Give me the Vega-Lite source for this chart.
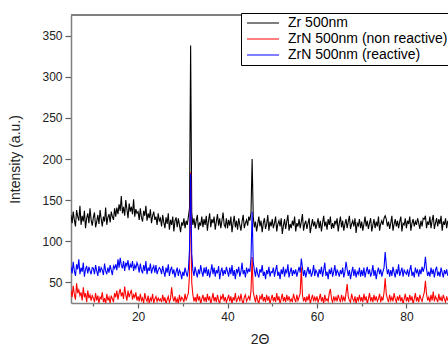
{
"$schema": "https://vega.github.io/schema/vega-lite/v6.json",
"width": 377,
"height": 288,
"autosize": {"type": "none"},
"padding": {"left": 71, "top": 15, "right": 0, "bottom": 42},
"background": "white",
"config": {"view": {"stroke": null}, "font": "Liberation Sans"},
"data": {"values": [
{"x":5,"a":132,"b":40,"c":69},{"x":5.25,"a":122,"b":32,"c":61},{"x":5.5,"a":136,"b":46,"c":75},{"x":5.75,"a":126,"b":35,"c":64},
{"x":6,"a":118,"b":29,"c":58},{"x":6.25,"a":138,"b":49,"c":72},{"x":6.5,"a":130,"b":37,"c":66},{"x":6.75,"a":125,"b":41,"c":78},
{"x":7,"a":143,"b":34,"c":60},{"x":7.25,"a":120,"b":38,"c":68},{"x":7.5,"a":131,"b":28,"c":63},{"x":7.75,"a":124,"b":44,"c":74},
{"x":8,"a":137,"b":32,"c":57},{"x":8.25,"a":116,"b":37,"c":66},{"x":8.5,"a":128,"b":26,"c":70},{"x":8.75,"a":134,"b":40,"c":61},
{"x":9,"a":122,"b":31,"c":69},{"x":9.25,"a":140,"b":35,"c":64},{"x":9.5,"a":126,"b":28,"c":60},{"x":9.75,"a":119,"b":34,"c":68},
{"x":10,"a":129,"b":31,"c":67},{"x":10.25,"a":135,"b":26,"c":60},{"x":10.5,"a":117,"b":37,"c":71},{"x":10.75,"a":124,"b":28,"c":64},
{"x":11,"a":132,"b":34,"c":58},{"x":11.25,"a":121,"b":25,"c":70},{"x":11.5,"a":138,"b":32,"c":62},{"x":11.75,"a":127,"b":30,"c":68},
{"x":12,"a":118,"b":38,"c":65},{"x":12.25,"a":130,"b":26,"c":59},{"x":12.5,"a":124,"b":31,"c":73},{"x":12.75,"a":141,"b":24,"c":64},
{"x":13,"a":120,"b":36,"c":60},{"x":13.25,"a":129,"b":28,"c":68},{"x":13.5,"a":133,"b":32,"c":62},{"x":13.75,"a":123,"b":25,"c":71},
{"x":14,"a":136,"b":34,"c":65},{"x":14.25,"a":130,"b":30,"c":59},{"x":14.5,"a":126,"b":26,"c":70},{"x":14.75,"a":140,"b":37,"c":67},
{"x":15,"a":130,"b":32,"c":72},{"x":15.25,"a":141,"b":40,"c":65},{"x":15.5,"a":133,"b":29,"c":78},{"x":15.75,"a":145,"b":37,"c":68},
{"x":16,"a":137,"b":42,"c":80},{"x":16.25,"a":155,"b":33,"c":71},{"x":16.5,"a":134,"b":38,"c":67},{"x":16.75,"a":142,"b":30,"c":76},
{"x":17,"a":131,"b":45,"c":64},{"x":17.25,"a":150,"b":35,"c":74},{"x":17.5,"a":139,"b":28,"c":70},{"x":17.75,"a":128,"b":40,"c":77},
{"x":18,"a":146,"b":32,"c":65},{"x":18.25,"a":136,"b":37,"c":72},{"x":18.5,"a":142,"b":41,"c":68},{"x":18.75,"a":133,"b":29,"c":76},
{"x":19,"a":151,"b":35,"c":64},{"x":19.25,"a":130,"b":32,"c":71},{"x":19.5,"a":139,"b":38,"c":67},{"x":19.75,"a":134,"b":28,"c":74},
{"x":20,"a":136,"b":33,"c":70},{"x":20.25,"a":126,"b":27,"c":62},{"x":20.5,"a":140,"b":36,"c":73},{"x":20.75,"a":129,"b":28,"c":65},
{"x":21,"a":124,"b":31,"c":61},{"x":21.25,"a":137,"b":25,"c":71},{"x":21.5,"a":131,"b":37,"c":64},{"x":21.75,"a":143,"b":30,"c":76},
{"x":22,"a":125,"b":27,"c":60},{"x":22.25,"a":134,"b":34,"c":68},{"x":22.5,"a":128,"b":24,"c":64},{"x":22.75,"a":139,"b":31,"c":73},
{"x":23,"a":122,"b":28,"c":61},{"x":23.25,"a":131,"b":36,"c":67},{"x":23.5,"a":136,"b":25,"c":70},{"x":23.75,"a":126,"b":30,"c":62},
{"x":24,"a":130,"b":33,"c":71},{"x":24.25,"a":120,"b":27,"c":60},{"x":24.5,"a":134,"b":31,"c":65},{"x":24.75,"a":125,"b":28,"c":68},
{"x":25,"a":128,"b":30,"c":66},{"x":25.25,"a":118,"b":26,"c":60},{"x":25.5,"a":132,"b":35,"c":70},{"x":25.75,"a":123,"b":27,"c":63},
{"x":26,"a":116,"b":32,"c":57},{"x":26.25,"a":129,"b":24,"c":68},{"x":26.5,"a":121,"b":29,"c":62},{"x":26.75,"a":134,"b":33,"c":72},
{"x":27,"a":114,"b":26,"c":58},{"x":27.25,"a":126,"b":30,"c":65},{"x":27.5,"a":120,"b":44,"c":69},{"x":27.75,"a":130,"b":32,"c":60},
{"x":28,"a":112,"b":27,"c":66},{"x":28.25,"a":125,"b":33,"c":56},{"x":28.5,"a":129,"b":26,"c":63},{"x":28.75,"a":117,"b":30,"c":68},
{"x":29,"a":128,"b":24,"c":58},{"x":29.25,"a":120,"b":35,"c":65},{"x":29.5,"a":111,"b":27,"c":62},{"x":29.75,"a":123,"b":32,"c":54},
{"x":30,"a":119,"b":30,"c":63},{"x":30.25,"a":128,"b":26,"c":58},{"x":30.5,"a":116,"b":36,"c":68},{"x":30.75,"a":125,"b":28,"c":62},
{"x":31,"a":120,"b":33,"c":57},{"x":31.25,"a":130,"b":37,"c":66},{"x":31.5,"a":140,"b":60,"c":90},{"x":31.75,"a":338,"b":184,"c":182},
{"x":32,"a":135,"b":50,"c":85},{"x":32.25,"a":120,"b":35,"c":65},{"x":32.5,"a":128,"b":27,"c":58},{"x":32.75,"a":116,"b":32,"c":69},
{"x":33,"a":125,"b":26,"c":62},{"x":33.25,"a":132,"b":36,"c":56},{"x":33.5,"a":114,"b":28,"c":66},{"x":33.75,"a":123,"b":33,"c":60},
{"x":34,"a":119,"b":24,"c":71},{"x":34.25,"a":130,"b":30,"c":63},{"x":34.5,"a":117,"b":35,"c":57},{"x":34.75,"a":127,"b":27,"c":68},
{"x":35,"a":120,"b":32,"c":61},{"x":35.25,"a":131,"b":26,"c":69},{"x":35.5,"a":113,"b":36,"c":58},{"x":35.75,"a":125,"b":28,"c":66},
{"x":36,"a":134,"b":33,"c":56},{"x":36.25,"a":117,"b":24,"c":63},{"x":36.5,"a":127,"b":30,"c":72},{"x":36.75,"a":122,"b":37,"c":60},
{"x":37,"a":130,"b":27,"c":68},{"x":37.25,"a":114,"b":32,"c":57},{"x":37.5,"a":124,"b":26,"c":65},{"x":37.75,"a":133,"b":35,"c":61},
{"x":38,"a":119,"b":28,"c":70},{"x":38.25,"a":128,"b":24,"c":54},{"x":38.5,"a":116,"b":33,"c":63},{"x":38.75,"a":125,"b":30,"c":68},
{"x":39,"a":135,"b":36,"c":58},{"x":39.25,"a":120,"b":27,"c":65},{"x":39.5,"a":117,"b":32,"c":60},{"x":39.75,"a":128,"b":26,"c":69},
{"x":40,"a":116,"b":30,"c":63},{"x":40.25,"a":126,"b":35,"c":57},{"x":40.5,"a":119,"b":27,"c":68},{"x":40.75,"a":130,"b":33,"c":60},
{"x":41,"a":111,"b":24,"c":71},{"x":41.25,"a":122,"b":32,"c":58},{"x":41.5,"a":131,"b":28,"c":65},{"x":41.75,"a":117,"b":37,"c":54},
{"x":42,"a":125,"b":26,"c":66},{"x":42.25,"a":114,"b":30,"c":62},{"x":42.5,"a":128,"b":33,"c":69},{"x":42.75,"a":120,"b":27,"c":57},
{"x":43,"a":113,"b":36,"c":63},{"x":43.25,"a":124,"b":28,"c":74},{"x":43.5,"a":132,"b":24,"c":60},{"x":43.75,"a":116,"b":32,"c":65},
{"x":44,"a":122,"b":35,"c":56},{"x":44.25,"a":126,"b":27,"c":68},{"x":44.5,"a":119,"b":30,"c":62},{"x":44.75,"a":130,"b":33,"c":66},
{"x":45,"a":125,"b":28,"c":63},{"x":45.25,"a":135,"b":40,"c":80},{"x":45.5,"a":200,"b":81,"c":136},{"x":45.75,"a":130,"b":38,"c":75},
{"x":46,"a":117,"b":32,"c":65},{"x":46.25,"a":124,"b":26,"c":57},{"x":46.5,"a":112,"b":35,"c":68},{"x":46.75,"a":121,"b":28,"c":60},
{"x":47,"a":130,"b":24,"c":56},{"x":47.25,"a":118,"b":33,"c":66},{"x":47.5,"a":125,"b":30,"c":62},{"x":47.75,"a":111,"b":36,"c":71},
{"x":48,"a":122,"b":27,"c":58},{"x":48.25,"a":128,"b":32,"c":63},{"x":48.5,"a":115,"b":26,"c":54},{"x":48.75,"a":121,"b":35,"c":65},
{"x":49,"a":132,"b":28,"c":60},{"x":49.25,"a":113,"b":33,"c":69},{"x":49.5,"a":124,"b":24,"c":57},{"x":49.75,"a":118,"b":30,"c":63},
{"x":50,"a":127,"b":35,"c":62},{"x":50.25,"a":116,"b":27,"c":68},{"x":50.5,"a":122,"b":32,"c":57},{"x":50.75,"a":130,"b":26,"c":65},
{"x":51,"a":112,"b":37,"c":71},{"x":51.25,"a":121,"b":28,"c":58},{"x":51.5,"a":125,"b":33,"c":63},{"x":51.75,"a":118,"b":24,"c":54},
{"x":52,"a":128,"b":30,"c":66},{"x":52.25,"a":109,"b":36,"c":60},{"x":52.5,"a":119,"b":27,"c":69},{"x":52.75,"a":127,"b":32,"c":57},
{"x":53,"a":115,"b":26,"c":65},{"x":53.25,"a":124,"b":35,"c":62},{"x":53.5,"a":132,"b":28,"c":72},{"x":53.75,"a":113,"b":33,"c":56},
{"x":54,"a":121,"b":27,"c":63},{"x":54.25,"a":116,"b":30,"c":68},{"x":54.5,"a":125,"b":26,"c":58},{"x":54.75,"a":119,"b":36,"c":65},
{"x":55,"a":130,"b":30,"c":60},{"x":55.25,"a":112,"b":26,"c":66},{"x":55.5,"a":122,"b":35,"c":57},{"x":55.75,"a":118,"b":28,"c":63},
{"x":56,"a":127,"b":32,"c":69},{"x":56.25,"a":116,"b":37,"c":62},{"x":56.5,"a":124,"b":68,"c":79},{"x":56.75,"a":133,"b":35,"c":68},
{"x":57,"a":113,"b":27,"c":58},{"x":57.25,"a":121,"b":32,"c":65},{"x":57.5,"a":125,"b":26,"c":56},{"x":57.75,"a":115,"b":33,"c":63},
{"x":58,"a":122,"b":28,"c":69},{"x":58.25,"a":128,"b":36,"c":60},{"x":58.5,"a":110,"b":24,"c":66},{"x":58.75,"a":119,"b":30,"c":57},
{"x":59,"a":127,"b":35,"c":62},{"x":59.25,"a":118,"b":27,"c":71},{"x":59.5,"a":124,"b":32,"c":58},{"x":59.75,"a":115,"b":28,"c":65},
{"x":60,"a":121,"b":33,"c":62},{"x":60.25,"a":128,"b":26,"c":56},{"x":60.5,"a":116,"b":30,"c":66},{"x":60.75,"a":125,"b":36,"c":60},
{"x":61,"a":112,"b":27,"c":69},{"x":61.25,"a":122,"b":32,"c":57},{"x":61.5,"a":131,"b":24,"c":65},{"x":61.75,"a":118,"b":35,"c":74},
{"x":62,"a":124,"b":28,"c":58},{"x":62.25,"a":114,"b":30,"c":63},{"x":62.5,"a":127,"b":27,"c":54},{"x":62.75,"a":120,"b":37,"c":66},
{"x":63,"a":130,"b":42,"c":60},{"x":63.25,"a":115,"b":30,"c":68},{"x":63.5,"a":122,"b":26,"c":57},{"x":63.75,"a":116,"b":33,"c":63},
{"x":64,"a":125,"b":28,"c":71},{"x":64.25,"a":121,"b":32,"c":58},{"x":64.5,"a":128,"b":27,"c":65},{"x":64.75,"a":112,"b":35,"c":62},
{"x":65,"a":122,"b":30,"c":57},{"x":65.25,"a":130,"b":26,"c":65},{"x":65.5,"a":117,"b":35,"c":60},{"x":65.75,"a":125,"b":28,"c":68},
{"x":66,"a":113,"b":32,"c":56},{"x":66.25,"a":121,"b":27,"c":63},{"x":66.5,"a":127,"b":37,"c":75},{"x":66.75,"a":116,"b":48,"c":66},
{"x":67,"a":124,"b":33,"c":58},{"x":67.25,"a":131,"b":28,"c":65},{"x":67.5,"a":115,"b":26,"c":54},{"x":67.75,"a":121,"b":36,"c":62},
{"x":68,"a":125,"b":30,"c":69},{"x":68.25,"a":118,"b":27,"c":58},{"x":68.5,"a":128,"b":33,"c":66},{"x":68.75,"a":110,"b":24,"c":56},
{"x":69,"a":122,"b":32,"c":63},{"x":69.25,"a":119,"b":28,"c":60},{"x":69.5,"a":127,"b":35,"c":68},{"x":69.75,"a":116,"b":27,"c":57},
{"x":70,"a":124,"b":32,"c":65},{"x":70.25,"a":113,"b":26,"c":58},{"x":70.5,"a":121,"b":36,"c":68},{"x":70.75,"a":130,"b":28,"c":56},
{"x":71,"a":118,"b":33,"c":63},{"x":71.25,"a":125,"b":24,"c":69},{"x":71.5,"a":115,"b":30,"c":60},{"x":71.75,"a":122,"b":37,"c":66},
{"x":72,"a":128,"b":27,"c":57},{"x":72.25,"a":112,"b":32,"c":62},{"x":72.5,"a":120,"b":26,"c":71},{"x":72.75,"a":127,"b":35,"c":58},
{"x":73,"a":116,"b":28,"c":65},{"x":73.25,"a":124,"b":33,"c":54},{"x":73.5,"a":118,"b":27,"c":63},{"x":73.75,"a":130,"b":30,"c":68},
{"x":74,"a":113,"b":36,"c":60},{"x":74.25,"a":121,"b":26,"c":66},{"x":74.5,"a":125,"b":32,"c":57},{"x":74.75,"a":120,"b":28,"c":63},
{"x":75,"a":128,"b":38,"c":68},{"x":75.25,"a":131,"b":55,"c":87},{"x":75.5,"a":127,"b":36,"c":71},{"x":75.75,"a":118,"b":30,"c":60},
{"x":76,"a":124,"b":26,"c":66},{"x":76.25,"a":115,"b":35,"c":57},{"x":76.5,"a":122,"b":28,"c":65},{"x":76.75,"a":131,"b":32,"c":58},
{"x":77,"a":113,"b":27,"c":69},{"x":77.25,"a":121,"b":37,"c":62},{"x":77.5,"a":127,"b":30,"c":56},{"x":77.75,"a":118,"b":26,"c":66},
{"x":78,"a":125,"b":33,"c":60},{"x":78.25,"a":116,"b":28,"c":72},{"x":78.5,"a":124,"b":35,"c":58},{"x":78.75,"a":130,"b":27,"c":63},
{"x":79,"a":112,"b":32,"c":68},{"x":79.25,"a":122,"b":24,"c":57},{"x":79.5,"a":120,"b":30,"c":65},{"x":79.75,"a":128,"b":36,"c":62},
{"x":80,"a":116,"b":27,"c":60},{"x":80.25,"a":125,"b":32,"c":66},{"x":80.5,"a":121,"b":26,"c":57},{"x":80.75,"a":130,"b":35,"c":65},
{"x":81,"a":113,"b":28,"c":71},{"x":81.25,"a":122,"b":33,"c":58},{"x":81.5,"a":127,"b":24,"c":63},{"x":81.75,"a":118,"b":30,"c":56},
{"x":82,"a":124,"b":37,"c":68},{"x":82.25,"a":120,"b":27,"c":62},{"x":82.5,"a":128,"b":32,"c":65},{"x":82.75,"a":122,"b":26,"c":57},
{"x":83,"a":115,"b":35,"c":66},{"x":83.25,"a":125,"b":30,"c":60},{"x":83.5,"a":118,"b":27,"c":69},{"x":83.75,"a":128,"b":33,"c":63},
{"x":84,"a":127,"b":38,"c":68},{"x":84.25,"a":131,"b":52,"c":81},{"x":84.5,"a":116,"b":36,"c":66},{"x":84.75,"a":124,"b":28,"c":58},
{"x":85,"a":120,"b":32,"c":63},{"x":85.25,"a":130,"b":26,"c":57},{"x":85.5,"a":116,"b":35,"c":68},{"x":85.75,"a":125,"b":28,"c":60},
{"x":86,"a":132,"b":39,"c":66},{"x":86.25,"a":115,"b":27,"c":56},{"x":86.5,"a":122,"b":33,"c":65},{"x":86.75,"a":128,"b":30,"c":69},
{"x":87,"a":118,"b":26,"c":58},{"x":87.25,"a":127,"b":36,"c":63},{"x":87.5,"a":121,"b":28,"c":57},{"x":87.75,"a":131,"b":32,"c":68},
{"x":88,"a":113,"b":27,"c":62},{"x":88.25,"a":124,"b":35,"c":56},{"x":88.5,"a":120,"b":30,"c":65},{"x":88.75,"a":128,"b":26,"c":60},
{"x":89,"a":116,"b":33,"c":66},{"x":89.25,"a":125,"b":28,"c":58}
]},
"layer": [
{
"transform": [{"fold": ["a", "b", "c"], "as": ["s", "v"]}],
"mark": {"type": "line", "strokeWidth": 1.1, "clip": true},
"encoding": {
"x": {"field": "x", "type": "quantitative",
"scale": {"domain": [5, 89.3], "nice": false, "zero": false},
"axis": {"values": [10, 20, 30, 40, 50, 60, 70, 80],
"labelExpr": "datum.value % 20 === 0 ? datum.label : ''",
"tickSize": {"condition": {"test": "datum.value % 20 === 0", "value": 5}, "value": 3},
"title": "2Θ", "grid": false,
"domainColor": "#808080", "domainWidth": 1.5, "tickColor": "#606060", "tickWidth": 1.2,
"labelFontSize": 12, "labelColor": "#222222", "labelPadding": 3,
"titleFontSize": 14, "titleFontWeight": "normal", "titleColor": "#222222", "titlePadding": 10}},
"y": {"field": "v", "type": "quantitative",
"scale": {"domain": [25, 375], "nice": false, "zero": false},
"axis": {"values": [50, 75, 100, 125, 150, 175, 200, 225, 250, 275, 300, 325, 350],
"labelExpr": "datum.value % 50 === 0 ? datum.label : ''",
"tickSize": {"condition": {"test": "datum.value % 50 === 0", "value": 6}, "value": 3},
"title": "Intensity (a.u.)", "grid": false,
"domainColor": "#808080", "domainWidth": 1.5, "tickColor": "#606060", "tickWidth": 1.2,
"labelFontSize": 12, "labelColor": "#222222", "labelPadding": 3,
"titleFontSize": 14, "titleFontWeight": "normal", "titleColor": "#222222", "titlePadding": 19}},
"color": {"field": "s", "type": "nominal",
"scale": {"domain": ["a", "b", "c"], "range": ["black", "red", "blue"]},
"legend": {"orient": "none", "legendX": 170, "legendY": -2, "title": null,
"labelExpr": "datum.value === 'a' ? 'Zr 500nm' : datum.value === 'b' ? 'ZrN 500nm (non reactive)' : 'ZrN 500nm (reactive)'",
"strokeColor": "black", "fillColor": "white", "padding": 3,
"symbolType": "M-1,0H7", "symbolSize": 64, "symbolStrokeWidth": 1,
"labelFontSize": 14, "labelColor": "black", "labelOffset": 30, "rowPadding": 2}}
}
},
{
"mark": {"type": "rule", "color": "#808080", "strokeWidth": 1.5},
"encoding": {"y": {"datum": 375}}
}
]
}
